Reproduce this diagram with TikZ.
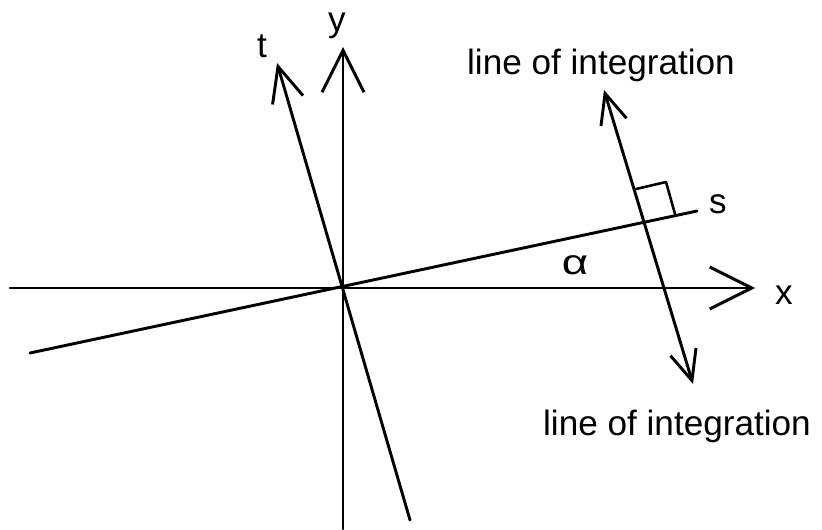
\documentclass[tikz,border=0pt]{standalone}
\usepackage{fontspec}
\setmainfont{Liberation Sans}
\usetikzlibrary{arrows.meta}

\begin{document}
\begin{tikzpicture}[x=0.03cm, y=-0.03cm, line width=2.5pt, line cap=round,
    lbl/.style={font=\fontsize{30}{35}\selectfont, inner sep=0pt, anchor=base},
    axe/.style={-{Straight Barb[length=12.6mm, width=12.6mm, line width=2.5pt]}},
    taxe/.style={-{Straight Barb[length=10.5mm, width=9.5mm, line width=2.5pt]}},
    integ/.style={{Straight Barb[length=9mm, width=8mm, line width=2.5pt]}-{Straight Barb[length=9mm, width=8mm, line width=2.5pt]}}]
  \useasboundingbox (0,0) rectangle (822,529);
  % axes
  \coordinate (O) at (343,288);
  \coordinate (xneg) at (10,288);  \coordinate (xpos) at (755,288);
  \coordinate (yneg) at (343,529); \coordinate (ypos) at (343,47);
  \coordinate (tneg) at (410,520); \coordinate (tpos) at (277,63);
  \coordinate (sneg) at (30,353);  \coordinate (spos) at (697,211);
  \draw[axe] (xneg) -- (xpos);
  \draw[axe] (yneg) -- (ypos);
  \draw[taxe] (tneg) -- (tpos);
  \draw (sneg) -- (spos);
  % line of integration
  \coordinate (Ltop) at (604,90); \coordinate (Lbot) at (693,384);
  \draw[integ] (Ltop) -- (Lbot);
  % right angle
  \coordinate (ra1) at (675,214); \coordinate (ra2) at (666,182);
  \coordinate (ra3) at (636,189);
  \draw[line width=2.2pt, line join=round] (ra1) -- (ra2) -- (ra3);
  % labels
  \node[lbl] (xlab) at (784,304) {x};
  \node[lbl] (ylab) at (337,31) {y};
  \node[lbl] (tlab) at (262,57) {t};
  \node[lbl] (slab) at (718,213) {s};
  \node[lbl, font=\fontsize{30}{35}\selectfont, xscale=1.3] (alab) at (575,274) {α};
  \node[lbl] (ltop) at (601,74) {line of integration};
  \node[lbl] (lbot) at (677,435) {line of integration};
\end{tikzpicture}
\end{document}
